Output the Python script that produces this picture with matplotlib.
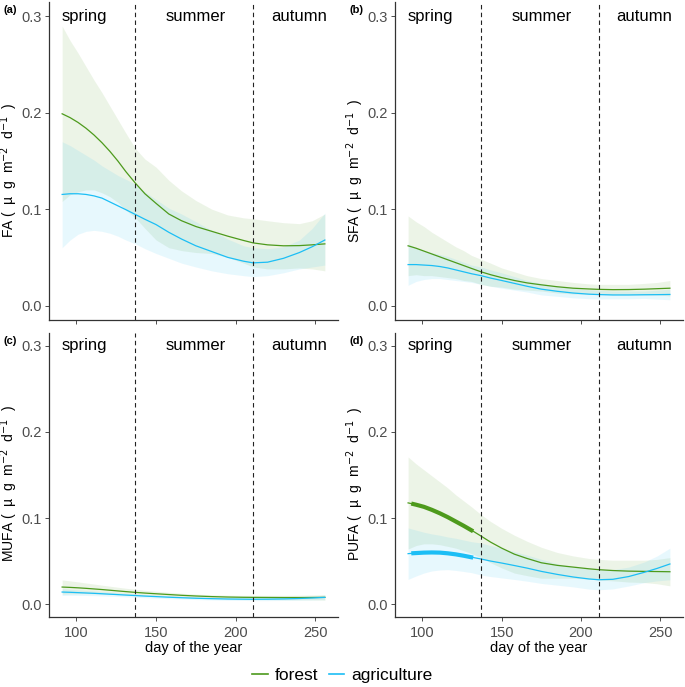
import matplotlib
matplotlib.use("Agg")
import matplotlib.pyplot as plt
from matplotlib.lines import Line2D

plt.rcParams["font.family"] = ["Liberation Sans", "DejaVu Sans"]

days = [91, 96, 101, 106, 111, 116, 121, 126, 131, 137, 143, 150,
        158, 166, 175, 185, 195, 205, 211, 220, 230, 240, 248, 256]

# (a) FA
fa_forest = [0.199, 0.195, 0.190, 0.184, 0.177, 0.169, 0.160, 0.150, 0.139, 0.127, 0.116, 0.106,
             0.095, 0.088, 0.082, 0.077, 0.072, 0.0675, 0.065, 0.063, 0.062, 0.0622, 0.063, 0.064]
fa_forest_hi = [0.290, 0.275, 0.262, 0.248, 0.234, 0.221, 0.207, 0.193, 0.179, 0.163, 0.152, 0.1436,
                0.130, 0.119, 0.109, 0.100, 0.094, 0.091, 0.090, 0.088, 0.086, 0.085, 0.088, 0.095]
fa_forest_lo = [0.108, 0.115, 0.118, 0.120, 0.120, 0.117, 0.113, 0.107, 0.099, 0.091, 0.080, 0.068,
                0.060, 0.057, 0.055, 0.054, 0.050, 0.044, 0.040, 0.038, 0.038, 0.039, 0.038, 0.036]
fa_agri = [0.1153, 0.116, 0.116, 0.1153, 0.1138, 0.1115, 0.1075, 0.1035, 0.0995, 0.0945, 0.0895, 0.084,
           0.076, 0.069, 0.062, 0.056, 0.050, 0.046, 0.0443, 0.045, 0.049, 0.055, 0.061, 0.068]
fa_agri_hi = [0.170, 0.166, 0.161, 0.156, 0.151, 0.145, 0.140, 0.135, 0.131, 0.126, 0.118, 0.110,
              0.101, 0.095, 0.087, 0.078, 0.069, 0.062, 0.060, 0.059, 0.061, 0.068, 0.080, 0.096]
fa_agri_lo = [0.060, 0.068, 0.074, 0.077, 0.078, 0.077, 0.075, 0.072, 0.068, 0.064, 0.059, 0.054,
              0.049, 0.044, 0.040, 0.036, 0.033, 0.031, 0.030, 0.031, 0.034, 0.038, 0.040, 0.042]

# (b) SFA
sfa_forest = [0.062, 0.0595, 0.0565, 0.0535, 0.0505, 0.0475, 0.0445, 0.0415, 0.0385, 0.035, 0.032, 0.029,
              0.026, 0.0235, 0.0215, 0.0195, 0.018, 0.0172, 0.0168, 0.0165, 0.0166, 0.017, 0.0175, 0.018]
sfa_forest_hi = [0.093, 0.087, 0.082, 0.076, 0.071, 0.066, 0.061, 0.057, 0.052, 0.048, 0.044, 0.039,
                 0.035, 0.031, 0.028, 0.026, 0.024, 0.0225, 0.022, 0.022, 0.022, 0.023, 0.024, 0.026]
sfa_forest_lo = [0.031, 0.032, 0.031, 0.031, 0.030, 0.029, 0.028, 0.026, 0.025, 0.022, 0.020, 0.019,
                 0.017, 0.016, 0.015, 0.013, 0.012, 0.0119, 0.0116, 0.011, 0.0112, 0.011, 0.011, 0.010]
sfa_agri = [0.0425, 0.0425, 0.042, 0.0415, 0.0405, 0.039, 0.037, 0.035, 0.033, 0.031, 0.0285, 0.026,
            0.023, 0.020, 0.017, 0.0148, 0.013, 0.0118, 0.0114, 0.011, 0.011, 0.0112, 0.0113, 0.0115]
sfa_agri_hi = [0.064, 0.060, 0.057, 0.055, 0.053, 0.051, 0.048, 0.045, 0.042, 0.040, 0.037, 0.034,
               0.030, 0.026, 0.023, 0.020, 0.018, 0.0165, 0.016, 0.015, 0.015, 0.015, 0.016, 0.017]
sfa_agri_lo = [0.021, 0.025, 0.027, 0.028, 0.028, 0.027, 0.026, 0.025, 0.024, 0.022, 0.020, 0.018,
               0.016, 0.014, 0.011, 0.0096, 0.008, 0.0071, 0.0068, 0.007, 0.007, 0.0074, 0.0066, 0.006]

# (c) MUFA
mufa_forest = [0.0198, 0.0194, 0.0189, 0.0183, 0.0176, 0.0169, 0.0161, 0.0153, 0.0145, 0.0136, 0.0128, 0.012,
               0.0111, 0.0102, 0.0094, 0.0087, 0.0082, 0.0079, 0.0078, 0.0077, 0.0076, 0.0076, 0.0077, 0.0078]
mufa_forest_hi = [0.028, 0.027, 0.0258, 0.0245, 0.0233, 0.022, 0.0208, 0.0196, 0.0184, 0.0172, 0.016, 0.0149,
                  0.0137, 0.0126, 0.0116, 0.0108, 0.0103, 0.0101, 0.0101, 0.0101, 0.0101, 0.0103, 0.0106, 0.011]
mufa_forest_lo = [0.0116, 0.0118, 0.012, 0.0121, 0.0119, 0.0118, 0.0114, 0.011, 0.0106, 0.010, 0.0096, 0.0091,
                  0.0085, 0.0078, 0.0072, 0.0066, 0.0061, 0.0057, 0.0055, 0.0053, 0.0051, 0.0049, 0.0048, 0.0046]
mufa_agri = [0.014, 0.0137, 0.0133, 0.0129, 0.0125, 0.012, 0.0115, 0.011, 0.0105, 0.0099, 0.0093, 0.0087,
             0.008, 0.0074, 0.0068, 0.0063, 0.0059, 0.0057, 0.0056, 0.0057, 0.006, 0.0065, 0.0071, 0.0078]
mufa_agri_hi = [0.018, 0.0172, 0.0165, 0.0158, 0.0152, 0.0145, 0.0139, 0.0132, 0.0126, 0.0119, 0.0112, 0.0105,
                0.0097, 0.009, 0.0083, 0.0078, 0.0074, 0.0072, 0.0072, 0.0074, 0.0078, 0.0085, 0.0094, 0.0105]
mufa_agri_lo = [0.010, 0.0102, 0.0101, 0.010, 0.0098, 0.0095, 0.0091, 0.0088, 0.0084, 0.0079, 0.0074, 0.0069,
                0.0063, 0.0058, 0.0053, 0.0048, 0.0044, 0.0042, 0.004, 0.004, 0.0042, 0.0045, 0.0048, 0.0051]

# (d) PUFA
pufa_forest = [0.1176, 0.1155, 0.113, 0.1095, 0.1055, 0.101, 0.096, 0.091, 0.0858, 0.079, 0.072, 0.065,
               0.058, 0.053, 0.048, 0.045, 0.043, 0.041, 0.040, 0.039, 0.0383, 0.038, 0.0378, 0.0376]
pufa_forest_hi = [0.171, 0.163, 0.156, 0.149, 0.142, 0.135, 0.127, 0.120, 0.113, 0.104, 0.096, 0.088,
                  0.080, 0.073, 0.066, 0.060, 0.056, 0.053, 0.052, 0.051, 0.051, 0.051, 0.052, 0.054]
pufa_forest_lo = [0.064, 0.068, 0.070, 0.070, 0.069, 0.067, 0.065, 0.062, 0.0586, 0.054, 0.048, 0.042,
                  0.036, 0.033, 0.030, 0.030, 0.030, 0.029, 0.028, 0.027, 0.0256, 0.025, 0.0236, 0.0212]
pufa_agri = [0.0586, 0.0593, 0.0598, 0.060, 0.0598, 0.059, 0.0578, 0.0562, 0.0545, 0.0524, 0.050, 0.0477,
             0.0448, 0.0418, 0.038, 0.0345, 0.0315, 0.0292, 0.0283, 0.0288, 0.032, 0.037, 0.0415, 0.0466]
pufa_agri_hi = [0.0885, 0.086, 0.0835, 0.0815, 0.080, 0.078, 0.0765, 0.0745, 0.0725, 0.071, 0.068, 0.065,
                0.061, 0.057, 0.052, 0.047, 0.043, 0.041, 0.040, 0.040, 0.043, 0.049, 0.056, 0.065]
pufa_agri_lo = [0.0287, 0.0326, 0.0361, 0.0385, 0.0396, 0.040, 0.0391, 0.0379, 0.0365, 0.0338, 0.032, 0.0304,
                0.0286, 0.0266, 0.024, 0.022, 0.020, 0.0174, 0.0166, 0.0176, 0.021, 0.025, 0.027, 0.0282]

# significant (thick) stretch in (d)
thick_days = [93, 96, 101, 106, 111, 116, 121, 126, 132]
pufa_forest_thick = [0.1168, 0.1155, 0.113, 0.1095, 0.1055, 0.101, 0.096, 0.091, 0.0846]
pufa_agri_thick = [0.059, 0.0593, 0.0598, 0.060, 0.0598, 0.059, 0.0578, 0.0562, 0.054]

season_breaks = [137, 211]
seasons = ["spring", "summer", "autumn"]
season_x = [105, 175, 240]

panels = [
    ("(a)", "FA", fa_forest, fa_forest_lo, fa_forest_hi, fa_agri, fa_agri_lo, fa_agri_hi),
    ("(b)", "SFA", sfa_forest, sfa_forest_lo, sfa_forest_hi, sfa_agri, sfa_agri_lo, sfa_agri_hi),
    ("(c)", "MUFA", mufa_forest, mufa_forest_lo, mufa_forest_hi, mufa_agri, mufa_agri_lo, mufa_agri_hi),
    ("(d)", "PUFA", pufa_forest, pufa_forest_lo, pufa_forest_hi, pufa_agri, pufa_agri_lo, pufa_agri_hi),
]

GREEN = "#4d9a1c"
BLUE = "#1cbef5"
W, H = 685, 687

# axes boxes in pixels: left, top, right, bottom
boxes = [(49, 2, 338, 320), (395, 2, 683, 320), (49, 333, 338, 617), (395, 333, 683, 617)]

fig = plt.figure(figsize=(W / 100, H / 100), dpi=100)

for i, (tag, name, f, flo, fhi, a, alo, ahi) in enumerate(panels):
    l, t, r, b = boxes[i]
    ax = fig.add_axes([l / W, 1 - b / H, (r - l) / W, (b - t) / H])
    ax.fill_between(days, flo, fhi, color=GREEN, alpha=0.1, linewidth=0)
    ax.fill_between(days, alo, ahi, color=BLUE, alpha=0.1, linewidth=0)
    ax.plot(days, f, color=GREEN, lw=0.9)
    ax.plot(days, a, color=BLUE, lw=0.9)
    if name == "PUFA":
        ax.plot(thick_days, pufa_forest_thick, color=GREEN, lw=3.0, solid_capstyle="butt")
        ax.plot(thick_days, pufa_agri_thick, color=BLUE, lw=3.0, solid_capstyle="butt")
    for d in season_breaks:
        ax.axvline(d, color="#222222", lw=0.8, ls=(0, (4, 3)))
    for s, sx in zip(seasons, season_x):
        ax.text(sx, 0.3, s, ha="center", va="center", fontsize=12, color="black")

    ax.set_xlim(82.75, 264.25)
    ax.set_ylim(-0.015, 0.315)
    ax.set_xticks([100, 150, 200, 250])
    ax.set_yticks([0.0, 0.1, 0.2, 0.3])
    ax.set_yticklabels(["0.0", "0.1", "0.2", "0.3"])
    ax.tick_params(colors="#4d4d4d", labelsize=10.5, length=3, width=0.7)
    ax.tick_params(axis="y", pad=2)
    for sp in ("top", "right"):
        ax.spines[sp].set_visible(False)
    for sp in ("left", "bottom"):
        ax.spines[sp].set_color("#333333")
        ax.spines[sp].set_linewidth(0.9)
    ax.set_ylabel(name + " (  µ  g  m$^{-2}$  d$^{-1}$  )", fontsize=10)
    ax.yaxis.set_label_coords(-0.10, 0.47)
    if i < 2:
        ax.set_xticklabels([])
    else:
        ax.set_xlabel("day of the year", fontsize=10.5, labelpad=1)
    fig.text((l - 46) / W, 1 - (t + 8) / H, tag, fontsize=8, fontweight="bold",
             ha="left", va="center")

handles = [Line2D([], [], color=GREEN, lw=1.2), Line2D([], [], color=BLUE, lw=1.2)]
fig.legend(handles, ["forest", "agriculture"], loc="center", ncol=2, frameon=False,
           bbox_to_anchor=(0.5, 1 - 675 / H), fontsize=12.5, handlelength=0.9,
           handletextpad=0.4, columnspacing=0.6)

fig.savefig("out.png", dpi=100)
